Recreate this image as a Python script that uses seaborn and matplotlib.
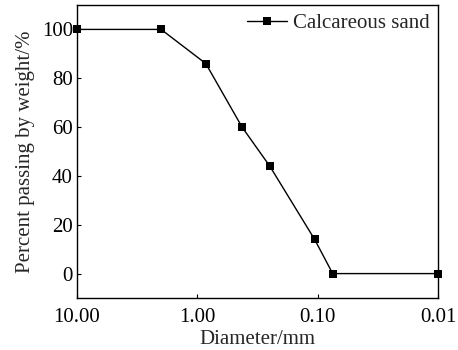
import matplotlib
matplotlib.use("Agg")
import matplotlib.pyplot as plt
import seaborn as sns
import pandas as pd
from matplotlib.ticker import FixedLocator, FixedFormatter, NullLocator

# Grain size distribution (sieve openings in mm)
diameter_mm = [10.0, 2.0, 0.85, 0.425, 0.25, 0.106, 0.075, 0.01]
percent_passing = [100, 100, 86, 60, 44, 14, 0, 0]
series_name = "Calcareous sand"

x_ticks = [10.0, 1.0, 0.1, 0.01]
x_tick_labels = ["10.00", "1.00", "0.10", "0.01"]
y_ticks = [0, 20, 40, 60, 80, 100]

sns.set_theme(style="ticks")
plt.rcParams["font.family"] = ["Liberation Serif", "DejaVu Serif"]
plt.rcParams["mathtext.fontset"] = "stix"

FS = 15

df = pd.DataFrame({"Diameter": diameter_mm, "Passing": percent_passing,
                   "Material": series_name})

fig = plt.figure(figsize=(4.58, 3.5), dpi=100)
ax = fig.add_axes([77 / 458, 1 - 298 / 350, (438 - 77) / 458, (298 - 5) / 350])

sns.lineplot(data=df, x="Diameter", y="Passing", hue="Material",
             palette=["black"], marker="s", markersize=6, markeredgewidth=0,
             linewidth=1.0, ax=ax, sort=False, clip_on=False)

ax.set_xscale("log")
ax.set_xlim(10, 0.01)
ax.set_ylim(-10, 110)
ax.xaxis.set_major_locator(FixedLocator(x_ticks))
ax.xaxis.set_major_formatter(FixedFormatter(x_tick_labels))
ax.xaxis.set_minor_locator(NullLocator())
ax.set_yticks(y_ticks)

ax.tick_params(axis="both", direction="in", length=3, width=0.8,
               labelsize=FS, colors="black", top=False, right=False)
ax.tick_params(axis="x", pad=7)
ax.tick_params(axis="y", pad=3)
for s in ax.spines.values():
    s.set_linewidth(1.0)
    s.set_color("black")

ax.set_xlabel("Diameter/mm", fontsize=FS, labelpad=2)
ax.set_ylabel("Percent passing by weight/%", fontsize=FS, labelpad=5)

leg = ax.legend(loc="upper right", frameon=False, fontsize=FS,
                handlelength=1.9, borderaxespad=0.1, borderpad=0.3,
                handletextpad=0.3)
leg.set_title(None)

fig.savefig("out.png", dpi=100)
